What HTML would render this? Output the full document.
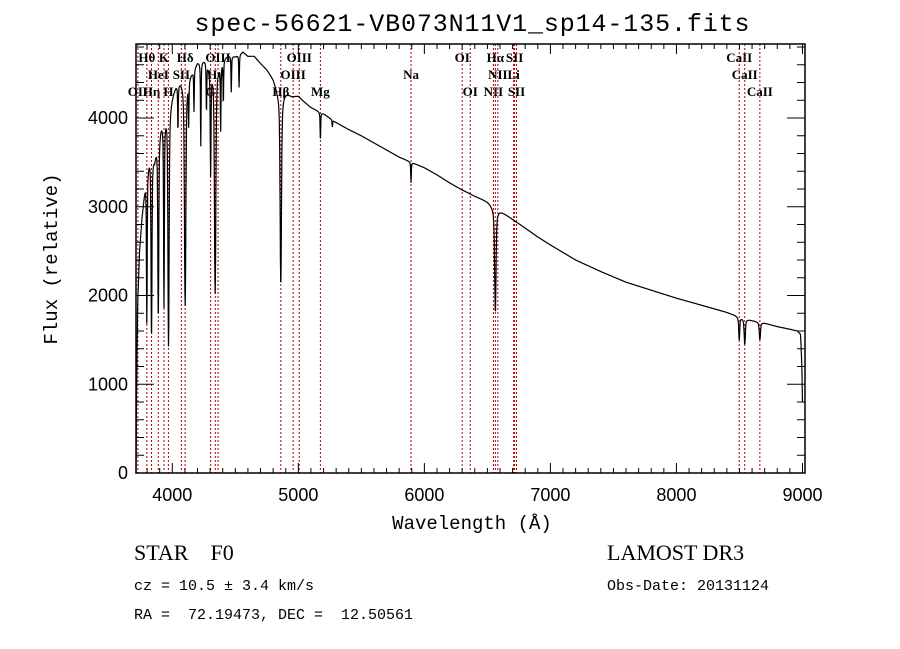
<!DOCTYPE html>
<html><head><meta charset="utf-8">
<style>
body{margin:0;background:#fff;}
svg{display:block;}
text{font-family:"Liberation Sans",sans-serif;fill:#000;white-space:pre;}
.mono{font-family:"Liberation Mono",monospace;}
.ser{font-family:"Liberation Serif",serif;}
</style></head>
<body>
<svg id="chart" width="900" height="649" viewBox="0 0 900 649" xmlns="http://www.w3.org/2000/svg">
<text x="472" y="31" font-size="25" text-anchor="middle" class="mono" textLength="555">spec-56621-VB073N11V1_sp14-135.fits</text>
<g id="plot"></g>
<text x="472" y="529" font-size="19" text-anchor="middle" class="mono">Wavelength (Å)</text>
<text transform="translate(57,259) rotate(-90)" font-size="19" text-anchor="middle" class="mono">Flux (relative)</text>
<text x="134" y="560" font-size="22" class="ser" xml:space="preserve">STAR    F0</text>
<text x="607" y="560" font-size="22" class="ser">LAMOST DR3</text>
<text x="134" y="590" font-size="15" class="mono">cz = 10.5 ± 3.4 km/s</text>
<text x="607" y="590" font-size="15" class="mono">Obs-Date: 20131124</text>
<text x="134" y="619" font-size="15" class="mono" xml:space="preserve">RA =  72.19473, DEC =  12.50561</text>
</svg>
<script>
const xTicks=[4000,5000,6000,7000,8000,9000];
const yTicks=[0,1000,2000,3000,4000];
const contWave=[3712,3716,3725,3740,3760,3780,3800,3830,3860,3880,3910,3950,4000,4030,4060,4120,4160,4200,4260,4300,4380,4420,4460,4500,4560,4600,4650,4700,4750,4800,4830,4900,4950,5000,5050,5100,5200,5300,5400,5500,5600,5700,5800,5900,6000,6100,6200,6300,6400,6500,6560,6600,6700,6800,6900,7000,7200,7400,7600,7800,8000,8200,8400,8500,8600,8700,8800,8900,8960,8985,8995,9000];
const contFlux=[0,900,1900,2500,2900,3200,3500,3700,3600,3800,4000,4150,4300,4400,4450,4500,4550,4650,4680,4600,4650,4700,4720,4700,4750,4700,4700,4620,4550,4450,4350,4300,4250,4250,4180,4120,4050,3950,3870,3800,3720,3640,3560,3500,3440,3360,3270,3190,3120,3060,3000,2960,2860,2760,2660,2570,2400,2270,2150,2060,1970,1890,1810,1760,1720,1690,1650,1620,1600,1560,1200,800];
const lineCenter=[3798,3835,3889,3934,3970,4102,4226,4304,4340,4384,4861,5175,5270,5894,6563,8498,8542,8662,4045,4130,4172,4271,4405,4468,4530];
const lineDepth=[1700,1530,1760,1900,1440,1890,3700,3400,2030,3900,2120,3750,3900,3270,1810,1500,1450,1500,3900,4000,4100,4100,4200,4300,4350];
const lineWidth=[4,5,5,4,6,7,3,4,7,3,7,3,3,3,7,5,6,6,3,3,3,3,3,3,3];
const markWave=[3727,3798,3835,3889,3934,3969,4072,4102,4304,4341,4363,4861,4959,5007,5175,5894,6300,6364,6548,6563,6583,6708,6716,6731,8498,8542,8662];
const labelText=["OII","Hθ","Hη","HeI","K","H","SII","Hδ","G","Hγ","OIII","Hβ","OIII","OIII","Mg","Na","OI","OI","NII","Hα","NII","Li","SII","SII","CaII","CaII","CaII"];
const labelRow=[2,0,2,1,0,2,1,0,2,1,0,2,1,0,2,1,0,2,2,0,1,1,0,2,0,1,2];

const L=136,R=805,T=44,B=473;
const xMin=3712,xMax=9020,yMin=0,yMax=4834;
const sx=w=>L+(w-xMin)/(xMax-xMin)*(R-L);
const sy=f=>B-(f-yMin)/(yMax-yMin)*(B-T);
const NS="http://www.w3.org/2000/svg";
const g=document.getElementById('plot');
function el(t,a){const e=document.createElementNS(NS,t);for(const k in a)e.setAttribute(k,a[k]);g.appendChild(e);return e;}

markWave.forEach((w,i)=>{
 const ln=el('line',{x1:sx(w),x2:sx(w),y1:T,y2:B,stroke:'#b00000','stroke-width':1,'stroke-dasharray':'2,2'});
 
 
 const tx=el('text',{x:sx(w),y:62+labelRow[i]*17,'font-size':13,'font-weight':'bold','text-anchor':'middle',class:'ser'});
 tx.textContent=labelText[i];
 
 
});

function cont(w){for(let i=0;i<contWave.length-1;i++){if(w<=contWave[i+1]){const t=(w-contWave[i])/(contWave[i+1]-contWave[i]);return contFlux[i]+t*(contFlux[i+1]-contFlux[i]);}}return contFlux[contFlux.length-1];}
let pts=[];
for(let w=contWave[0];w<=9000;w+=2){
 let f=cont(w);let m=1;
 lineCenter.forEach((c,i)=>{const c0=cont(c);const d=1-lineDepth[i]/c0;const x=(w-c)/lineWidth[i];m*=1-d*(0.75*Math.exp(-x*x)+0.25/(1+x*x*0.3));});
 pts.push(sx(w).toFixed(1)+','+sy(Math.max(0,f*m)).toFixed(1));
}
const sp=el('polyline',{points:pts.join(' '),fill:'none',stroke:'#000','stroke-width':1.2});



const box=el('rect',{x:L,y:T,width:R-L,height:B-T,fill:'none',stroke:'#000','stroke-width':1.5});



for(let w=3800;w<=9000;w+=100){const maj=w%1000===0;const len=maj?10:5;
 el('line',{x1:sx(w),x2:sx(w),y1:B,y2:B-len,stroke:'#000'});
 el('line',{x1:sx(w),x2:sx(w),y1:T,y2:T+len,stroke:'#000'});}
xTicks.forEach(v=>{const t=el('text',{x:sx(v),y:B+28,'font-size':18,'text-anchor':'middle'});t.textContent=v;
 
 });
for(let f=0;f<=4800;f+=200){const maj=f%1000===0;const len=maj?18:8;
 el('line',{x1:L,x2:L+len,y1:sy(f),y2:sy(f),stroke:'#000'});
 el('line',{x1:R,x2:R-len,y1:sy(f),y2:sy(f),stroke:'#000'});}
yTicks.forEach(v=>{const t=el('text',{x:L-8,y:sy(v)+6,'font-size':18,'text-anchor':'end'});t.textContent=v;
 
 });
</script>
</body></html>
